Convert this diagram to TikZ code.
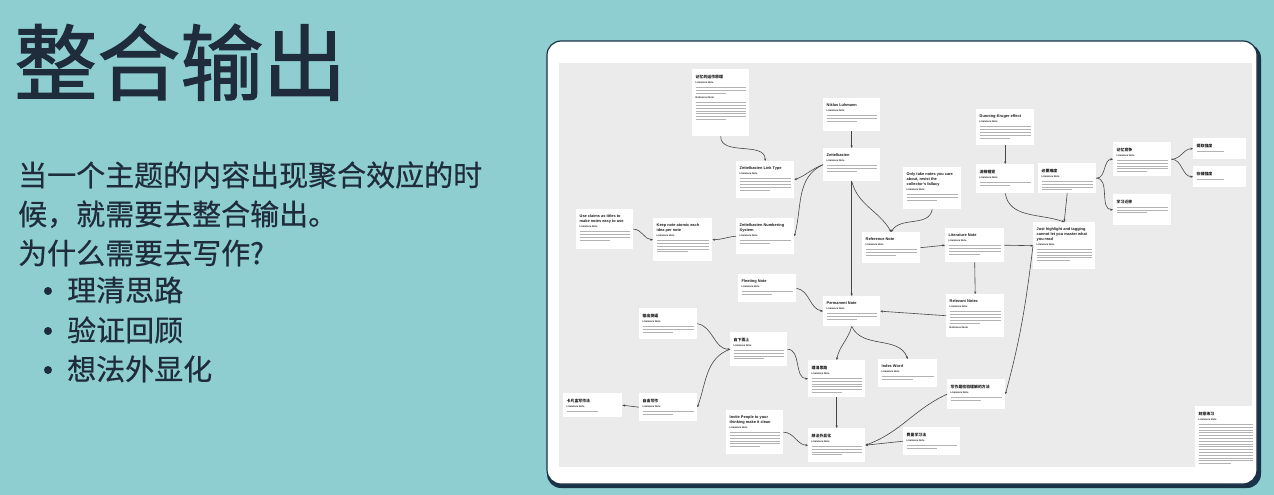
\documentclass[tikz,border=0pt]{standalone}
\usepackage{fontspec}
\setmainfont{Liberation Sans}
\newfontfamily\cjk{Noto Sans CJK SC}
\newfontfamily\cjkhead[FakeBold=1.4]{Noto Sans CJK SC}
\newfontfamily\cjkbody[FakeBold=0.5]{Noto Sans CJK SC}
\usetikzlibrary{arrows.meta}

\definecolor{slidebg}{RGB}{142,206,209}
\definecolor{ink}{RGB}{31,44,60}
\definecolor{canvas}{RGB}{235,235,235}
\definecolor{edgegray}{RGB}{70,70,70}
\definecolor{fillgray}{RGB}{178,178,178}
\definecolor{frameshade}{RGB}{26,50,70}

\newcommand{\ctitle}[1]{\noindent{\fontsize{3.9}{4.8}\selectfont\bfseries\spaceskip=.28em\relax #1\par}}
\newcommand{\litnote}{\vspace{2.2pt}\noindent{\fontsize{2.5}{3}\selectfont\bfseries\spaceskip=.28em\relax Literature Note\par}}
\newcommand{\refnote}{\vspace{2.2pt}\noindent{\fontsize{2.5}{3}\selectfont\bfseries\spaceskip=.28em\relax Reference Note\par}}
\newcommand{\filler}[1]{\vspace{1.6pt}{\fontsize{2}{2.8}\selectfont\color{fillgray}%
  \ifnum#1>1 \foreach \k in {2,...,#1}{\noindent\rule{\linewidth}{0.65pt}\par}\fi
  \noindent\rule{0.6\linewidth}{0.65pt}\par}}
\newcommand{\card}[6]{%
  \node[notecard, minimum width=#4pt, minimum height=#5pt] (#1) at (#2,#3) {};
  \pgfmathsetlengthmacro\cardtw{#4pt-7pt}
  \node[cardtext, text width=\cardtw] (#1t) at ([xshift=3.5pt,yshift=-5.5pt]#1.north west) {#6};
}

\tikzset{
  notecard/.style={fill=white, anchor=north west, inner sep=0pt},
  cardtext/.style={anchor=north west, inner sep=0pt, align=left, text=black!90},
  conn/.style={draw=edgegray, line width=0.6pt, ->},
  slidetext/.style={anchor=base west, inner sep=0pt, text=ink},
  >={Stealth[length=2.6pt,width=2.2pt]}
}

\begin{document}
\begin{tikzpicture}[x=1pt, y=-1pt]
    \useasboundingbox (0,0) rectangle (1274,495);
    \fill[slidebg] (0,0) rectangle (1274,495);

    \node[slidetext, font=\cjkhead\fontsize{83}{83}\selectfont] (title) at (14,94) {整合输出};
    \node[slidetext, font=\cjkbody\fontsize{29}{29}\selectfont] (body1) at (18,186) {当一个主题的内容出现聚合效应的时};
    \node[slidetext, font=\cjkbody\fontsize{29}{29}\selectfont] (body2) at (18,225) {候，就需要去整合输出。};
    \node[slidetext, font=\cjkbody\fontsize{29}{29}\selectfont] (body3) at (18,264) {为什么需要去写作?};
    \fill[ink] (48,291) circle (4);
    \fill[ink] (48,331) circle (4);
    \fill[ink] (48,370) circle (4);
    \node[slidetext, font=\cjkbody\fontsize{29}{29}\selectfont] (item1) at (67,301) {理清思路};
    \node[slidetext, font=\cjkbody\fontsize{29}{29}\selectfont] (item2) at (67,341) {验证回顾};
    \node[slidetext, font=\cjkbody\fontsize{29}{29}\selectfont] (item3) at (67,380) {想法外显化};

    \fill[frameshade, rounded corners=14pt] (547,44) rectangle (1261,488);
    \fill[white, draw=frameshade, line width=1.2pt, rounded corners=14pt] (547,41) rectangle (1257,484);
    \fill[canvas] (559,63) rectangle (1252,467);

    \card{mem}{692}{69}{57}{67}{\ctitle{\cjk 记忆的运作原理}\litnote\filler{3}\refnote\filler{7}}
    \card{niklas}{823}{98}{57}{33}{\ctitle{Niklas Luhmann}\litnote\filler{3}}
    \card{zk}{823}{148}{57}{33}{\ctitle{Zettelkasten}\litnote\filler{3}}
    \card{zklink}{736}{161}{58}{37}{\ctitle{Zettelkasten Link Type}\litnote\filler{5}}
    \card{num}{736}{218}{58}{36}{\ctitle{Zettelkasten Numbering\newline System}\litnote\filler{2}}
    \card{keep}{653}{218}{59}{43}{\ctitle{Keep note atomic each\newline idea per note}\litnote\filler{5}}
    \card{claims}{576}{209}{57}{40}{\ctitle{Use claims as titles to\newline make notes easy to use}\litnote\filler{4}}
    \card{only}{903}{167}{58}{42}{\ctitle{Only take notes you care\newline about, resist the\newline collector's fallacy}\litnote\filler{3}}
    \card{ref}{862}{232}{58}{31}{\ctitle{Reference Note}\litnote\filler{3}}
    \card{lit}{945}{228}{59}{34}{\ctitle{Literature Note}\litnote\filler{4}}
    \card{dunning}{976}{109}{58}{36}{\ctitle{Dunning-Kruger effect}\litnote\filler{5}}
    \card{fluency}{976}{164}{58}{29}{\ctitle{\cjk 流畅错觉}\litnote\filler{2}}
    \card{necessary}{1038}{163}{58}{30}{\ctitle{\cjk 必要难度}\litnote\filler{4}}
    \card{compete}{1113}{142}{58}{34}{\ctitle{\cjk 记忆竞争}\litnote\filler{5}}
    \card{retrieve}{1193}{138}{53}{21}{\ctitle{\cjk 提取强度}\filler{1}}
    \card{storage}{1193}{166}{53}{21}{\ctitle{\cjk 存储强度}\filler{1}}
    \card{transfer}{1113}{194}{58}{31}{\ctitle{\cjk 学习迁移}\filler{3}}
    \card{just}{1033}{222}{62}{47}{\ctitle{Just highlight and tagging\newline cannot let you master what\newline you read}\litnote\filler{5}}
    \card{fleet}{738}{274}{58}{28}{\ctitle{Fleeting Note}\litnote\filler{2}}
    \card{perm}{823}{296}{57}{30}{\ctitle{Permanent Note}\litnote\filler{3}}
    \card{rel}{946}{294}{58}{43}{\ctitle{Relevant Notes}\litnote\filler{5}\refnote}
    \card{force}{639}{308}{58}{31}{\ctitle{\cjk 输出倒逼}\litnote\filler{3}}
    \card{bottomup}{730}{332}{57}{34}{\ctitle{\cjk 自下而上}\litnote\filler{4}}
    \card{clear}{808}{360}{57}{37}{\ctitle{\cjk 理清思路}\litnote\filler{6}}
    \card{index}{878}{359}{59}{28}{\ctitle{Index Word}\litnote\filler{2}}
    \card{write}{947}{379}{58}{30}{\ctitle{\cjk 写作是检验理解的方法}\litnote\filler{2}}
    \card{free}{639}{393}{58}{28}{\ctitle{\cjk 自由写作}\litnote\filler{2}}
    \card{kapian}{563}{393}{59}{24}{\ctitle{\cjk 卡片盒写作法}\litnote\filler{1}}
    \card{invite}{726}{410}{57}{44}{\ctitle{Invite People to your\newline thinking make it clean}\litnote\filler{6}}
    \card{ext}{808}{428}{57}{34}{\ctitle{\cjk 想法外显化}\litnote\filler{4}}
    \card{feynman}{903}{427}{57}{28}{\ctitle{\cjk 费曼学习法}\litnote\filler{2}}
    \card{practice}{1195}{406}{61}{66}{\ctitle{\cjk 刻意练习}\litnote\filler{15}}

    \draw[conn] (mem.south) to[out=-90,in=90] (zklink.north);
    \draw[conn] (niklas.south) -- (zk.north);
    \draw[conn] (zk.west) to[out=200,in=20] (zklink.east);
    \draw[conn] (zk.west) to[out=205,in=75] (num.east);
    \draw[conn] (num.west) to[out=185,in=0] (keep.east);
    \draw[conn] (claims.east) to[out=0,in=180] (keep.west);
    \draw[conn] (zk.south) -- (perm.north);
    \draw[conn] (zk.south) to[out=-75,in=120] (ref.north);
    \draw[conn] (only.south) to[out=-100,in=60] (ref.north);
    \draw[conn] (ref.east) -- (lit.west);
    \draw[conn] (lit.east) -- (just.west);
    \draw[conn] (lit.south) -- (rel.north);
    \draw[conn] (rel.west) -- (perm.east);
    \draw[conn] (fleet.east) to[out=-10,in=170] (perm.west);
    \draw[conn] (perm.south) to[out=-105,in=80] (clear.north);
    \draw[conn] (perm.south) to[out=-65,in=110] (index.north);
    \draw[conn] (clear.south) -- (ext.north);
    \draw[conn] (bottomup.east) to[out=0,in=180] (clear.west);
    \draw[conn] (force.east) to[out=-10,in=180] (bottomup.west);
    \draw[conn] (bottomup.west) to[out=200,in=70] (free.east);
    \draw[conn] (free.west) -- (kapian.east);
    \draw[conn] (invite.east) to[out=0,in=180] (ext.west);
    \draw[conn] (feynman.west) -- (ext.east);
    \draw[conn] (write.west) to[out=205,in=20] (ext.east);
    \draw[conn] (just.west) to[out=-97,in=75] (write.east);
    \draw[conn] (dunning.south) -- (fluency.north);
    \draw[conn] (fluency.south) to[out=-80,in=160] (just.north);
    \draw[conn] (necessary.south) -- (just.north);
    \draw[conn] (necessary.east) to[out=0,in=180] (compete.west);
    \draw[conn] (necessary.east) to[out=0,in=180] (transfer.west);
    \draw[conn] (compete.east) to[out=0,in=180] (retrieve.west);
    \draw[conn] (compete.east) to[out=0,in=180] (storage.west);
\end{tikzpicture}
\end{document}
